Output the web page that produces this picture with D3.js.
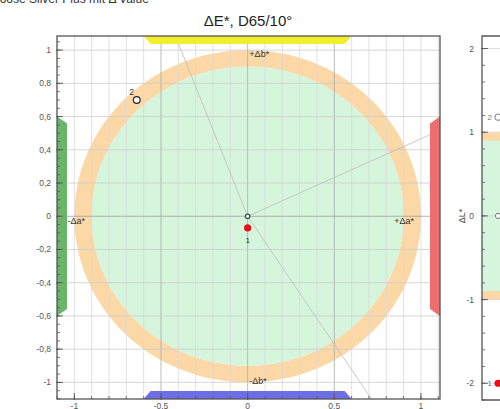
<!DOCTYPE html>
<html>
<head>
<meta charset="utf-8">
<script src="https://cdn.jsdelivr.net/npm/d3@7"></script>
<style>
  html, body { margin: 0; padding: 0; background: #fff; }
  svg { display: block; font-family: Arial, "Liberation Sans", sans-serif; }
</style>
</head>
<body>
<svg id="chart" width="500" height="409"></svg>
<script>
// ---- data ----
const headerText = "Loose Silver Plus mit Δ Value";
const titleText = "ΔE*, D65/10°";

// tolerance zones (radius in Δa*/Δb* units)
const innerTolerance = 0.9;
const outerTolerance = 1.0;

// ticks of the a*/b* diagram
const xMajorTicks = [-1, -0.5, 0, 0.5, 1];
const yMajorTicks = [-1, -0.8, -0.6, -0.4, -0.2, 0, 0.2, 0.4, 0.6, 0.8, 1];

// axis direction labels: [text, a, b]
const axisLabels = [
  ["-Δa*", -1.04, 0],
  ["+Δa*", 0.96, 0],
  ["+Δb*", 0.01, 0.985],
  ["-Δb*", 0.01, -0.985]
];

// hue direction rays from the standard (angle in degrees)
const hueRays = [25, 111, -57];

// tolerance range bars along each edge: side, from, to
const edgeBars = [
  { side: "top",    from: -0.6, to: 0.6, color: "#f3ee2c" },
  { side: "bottom", from: -0.6, to: 0.6, color: "#6d6de6" },
  { side: "left",   from: -0.6, to: 0.6, color: "#6bb56b" },
  { side: "right",  from: -0.6, to: 0.6, color: "#ec6e6e" }
];

// samples: id, Δa*, Δb*, ΔL*
const sampleIds = ["1", "2"];
const sampleDa = [0.0, -0.64];
const sampleDb = [-0.07, 0.70];
const sampleDL = [-2.0, 1.18];

// ΔL* bar chart ticks
const lMajorTicks = [-2, -1, 0, 1, 2];

// ---- layout ----
const svg = d3.select("#chart");
const fmt = v => String(v).replace(".", ",");

const x = d3.scaleLinear().domain([-1.1, 1.11]).range([57, 440]);
const y = d3.scaleLinear().domain([-1.1, 1.085]).range([399, 36]);

svg.append("defs").append("clipPath").attr("id", "plotClip")
  .append("rect")
  .attr("x", x.range()[0]).attr("y", y.range()[1])
  .attr("width", x.range()[1] - x.range()[0])
  .attr("height", y.range()[0] - y.range()[1]);

// header and title
svg.append("text").attr("x", -7).attr("y", 3)
  .attr("font-size", 12).attr("fill", "#333").text(headerText);
svg.append("text").attr("x", 248).attr("y", 26)
  .attr("text-anchor", "middle").attr("font-size", 15).attr("fill", "#222").text(titleText);

const plot = svg.append("g").attr("clip-path", "url(#plotClip)");

// tolerance circles
function circlePath(r) {
  const pts = d3.range(0, 361, 2).map(a => {
    const t = a * Math.PI / 180;
    return [x(r * Math.cos(t)), y(r * Math.sin(t))];
  });
  return d3.line()(pts) + "Z";
}
plot.append("path")
  .attr("d", circlePath(outerTolerance) + circlePath(innerTolerance))
  .attr("fill", "#fbd8a6").attr("fill-rule", "evenodd");
plot.append("path")
  .attr("d", circlePath(innerTolerance))
  .attr("fill", "#d6f5dd");

// grid
const xGrid = d3.range(-11, 12).map(i => i / 10);
const yGrid = d3.range(-5, 6).map(i => i / 5);
plot.append("g").selectAll("line").data(xGrid).join("line")
  .attr("x1", d => x(d)).attr("x2", d => x(d))
  .attr("y1", y.range()[0]).attr("y2", y.range()[1])
  .attr("stroke", d => (Math.abs(d) < 1e-9 || Math.abs(Math.abs(d) - 0.5) < 1e-9) ? "#a9a9a9" : "#d9d9d9")
  .attr("stroke-width", 0.8);
plot.append("g").selectAll("line").data(yGrid).join("line")
  .attr("y1", d => y(d)).attr("y2", d => y(d))
  .attr("x1", x.range()[0]).attr("x2", x.range()[1])
  .attr("stroke", d => Math.abs(d) < 1e-9 ? "#a0a0a0" : "#cdcdcd")
  .attr("stroke-width", 0.8);

// hue rays
plot.append("g").selectAll("line").data(hueRays).join("line")
  .attr("x1", x(0)).attr("y1", y(0))
  .attr("x2", d => x(3 * Math.cos(d * Math.PI / 180)))
  .attr("y2", d => y(3 * Math.sin(d * Math.PI / 180)))
  .attr("stroke", "#bcbcbc").attr("stroke-width", 0.8);

// edge bars (trapezoids, outer edge longer)
const barThick = 8, barTaper = 7;
const [x0, x1] = x.range();
const [y0, y1] = y.range(); // y0 bottom, y1 top
edgeBars.forEach(b => {
  let pts;
  if (b.side === "top") {
    const a = x(b.from), c = x(b.to);
    pts = [[a, y1], [c, y1], [c - barTaper, y1 + barThick], [a + barTaper, y1 + barThick]];
  } else if (b.side === "bottom") {
    const a = x(b.from), c = x(b.to);
    pts = [[a, y0], [c, y0], [c - barTaper, y0 - barThick], [a + barTaper, y0 - barThick]];
  } else if (b.side === "left") {
    const a = y(b.from), c = y(b.to);
    pts = [[x0, a], [x0, c], [x0 + barThick + 2, c + barTaper], [x0 + barThick + 2, a - barTaper]];
  } else {
    const a = y(b.from), c = y(b.to);
    pts = [[x1, a], [x1, c], [x1 - barThick - 2, c + barTaper], [x1 - barThick - 2, a - barTaper]];
  }
  plot.append("path").attr("d", d3.line()(pts) + "Z").attr("fill", b.color);
});

// axis direction labels
plot.append("g").selectAll("text").data(axisLabels).join("text")
  .attr("x", d => x(d[1])).attr("y", d => y(d[2]) + 4)
  .attr("text-anchor", d => d[0].includes("a") ? (d[0][0] === "-" ? "start" : "end") : "start")
  .attr("dy", d => d[0].includes("a") ? 4 : 0)
  .attr("font-size", 9).attr("fill", "#333").text(d => d[0]);

// frame
svg.append("rect")
  .attr("x", x0).attr("y", y1).attr("width", x1 - x0).attr("height", y0 - y1)
  .attr("fill", "none").attr("stroke", "#555").attr("stroke-width", 1.3);

// left axis ticks
const yMinor = d3.range(-22, 22).map(i => i / 20).filter(v => v >= -1.1 && v <= 1.085);
svg.append("g").selectAll("line").data(yMinor).join("line")
  .attr("x1", x0).attr("x2", x0 + 3)
  .attr("y1", d => y(d)).attr("y2", d => y(d))
  .attr("stroke", "#555").attr("stroke-width", 0.8);
svg.append("g").selectAll("line").data(yMajorTicks).join("line")
  .attr("x1", x0 - 1).attr("x2", x0 + 6)
  .attr("y1", d => y(d)).attr("y2", d => y(d))
  .attr("stroke", "#555").attr("stroke-width", 0.9);
svg.append("g").selectAll("text").data(yMajorTicks).join("text")
  .attr("x", x0 - 6).attr("y", d => y(d) + 3)
  .attr("text-anchor", "end").attr("font-size", 8.5).attr("fill", "#555")
  .text(d => fmt(d));

// bottom axis ticks
const xMinor = d3.range(-11, 12).map(i => i / 10);
svg.append("g").selectAll("line").data(xMinor).join("line")
  .attr("x1", d => x(d)).attr("x2", d => x(d))
  .attr("y1", y0).attr("y2", y0 - 3)
  .attr("stroke", "#555").attr("stroke-width", 0.8);
svg.append("g").selectAll("line").data(xMajorTicks).join("line")
  .attr("x1", d => x(d)).attr("x2", d => x(d))
  .attr("y1", y0 + 1).attr("y2", y0 - 6)
  .attr("stroke", "#555").attr("stroke-width", 0.9);
svg.append("g").selectAll("text").data(xMajorTicks).join("text")
  .attr("x", d => x(d)).attr("y", 408.5)
  .attr("text-anchor", "middle").attr("font-size", 8.5).attr("fill", "#555")
  .text(d => fmt(d));

// standard marker
svg.append("circle").attr("cx", x(0)).attr("cy", y(0)).attr("r", 2.2)
  .attr("fill", "#fff").attr("stroke", "#2f5a45").attr("stroke-width", 1.3);

// samples in a*/b*
sampleIds.forEach((id, i) => {
  const cx = x(sampleDa[i]), cy = y(sampleDb[i]);
  if (i === 0) {
    svg.append("circle").attr("cx", cx).attr("cy", cy).attr("r", 3.6).attr("fill", "#e3121b");
    svg.append("text").attr("x", cx).attr("y", cy + 15).attr("text-anchor", "middle")
      .attr("font-size", 8).attr("fill", "#333").text(id);
  } else {
    svg.append("circle").attr("cx", cx).attr("cy", cy).attr("r", 3.4)
      .attr("fill", "#fff").attr("stroke", "#222").attr("stroke-width", 1.2);
    svg.append("text").attr("x", cx - 5).attr("y", cy - 5).attr("text-anchor", "middle")
      .attr("font-size", 8.5).attr("fill", "#333").text(id);
  }
});

// ---- ΔL* chart ----
const lx = d3.scaleLinear().domain([0, 1]).range([482, 514]);
const ly = d3.scaleLinear().domain([-2.2, 2.15]).range([400, 36]);
const lg = svg.append("g");
lg.append("rect").attr("x", lx(0)).attr("width", 40)
  .attr("y", ly(outerTolerance)).attr("height", ly(-outerTolerance) - ly(outerTolerance))
  .attr("fill", "#fbd8a6");
lg.append("rect").attr("x", lx(0)).attr("width", 40)
  .attr("y", ly(innerTolerance)).attr("height", ly(-innerTolerance) - ly(innerTolerance))
  .attr("fill", "#d6f5dd");
lg.append("g").selectAll("line").data(lMajorTicks).join("line")
  .attr("x1", lx(0)).attr("x2", 500).attr("y1", d => ly(d)).attr("y2", d => ly(d))
  .attr("stroke", "#d4d4d4").attr("stroke-width", 0.8);
lg.append("path")
  .attr("d", `M500,${ly.range()[1]}H${lx(0)}V${ly.range()[0]}H500`)
  .attr("fill", "none").attr("stroke", "#555").attr("stroke-width", 1.3);
const lMinor = d3.range(-11, 11).map(i => i / 5).filter(v => v >= -2.2 && v <= 2.15);
lg.append("g").selectAll("line").data(lMinor).join("line")
  .attr("x1", lx(0)).attr("x2", lx(0) + 3).attr("y1", d => ly(d)).attr("y2", d => ly(d))
  .attr("stroke", "#555").attr("stroke-width", 0.8);
lg.append("g").selectAll("line").data(lMajorTicks).join("line")
  .attr("x1", lx(0) - 1).attr("x2", lx(0) + 6).attr("y1", d => ly(d)).attr("y2", d => ly(d))
  .attr("stroke", "#555").attr("stroke-width", 0.9);
lg.append("g").selectAll("text").data(lMajorTicks).join("text")
  .attr("x", lx(0) - 8).attr("y", d => ly(d) + 3)
  .attr("text-anchor", "end").attr("font-size", 8.5).attr("fill", "#555").text(d => fmt(d));
lg.append("text").attr("transform", `translate(465,${ly(0)}) rotate(-90)`)
  .attr("text-anchor", "middle").attr("font-size", 9).attr("fill", "#444").text("ΔL*");
lg.append("circle").attr("cx", lx(0.5)).attr("cy", ly(0)).attr("r", 2.6)
  .attr("fill", "#fff").attr("stroke", "#777").attr("stroke-width", 1);
sampleIds.forEach((id, i) => {
  const cx = lx(0.5), cy = ly(sampleDL[i]);
  if (i === 0) {
    lg.append("circle").attr("cx", cx).attr("cy", cy).attr("r", 3.6).attr("fill", "#e3121b");
  } else {
    lg.append("circle").attr("cx", cx).attr("cy", cy).attr("r", 3.2)
      .attr("fill", "#fff").attr("stroke", "#777").attr("stroke-width", 1);
  }
  lg.append("text").attr("x", cx - 6).attr("y", cy + 3).attr("text-anchor", "end")
    .attr("font-size", 8).attr("fill", "#777").text(id);
});
</script>
</body>
</html>
